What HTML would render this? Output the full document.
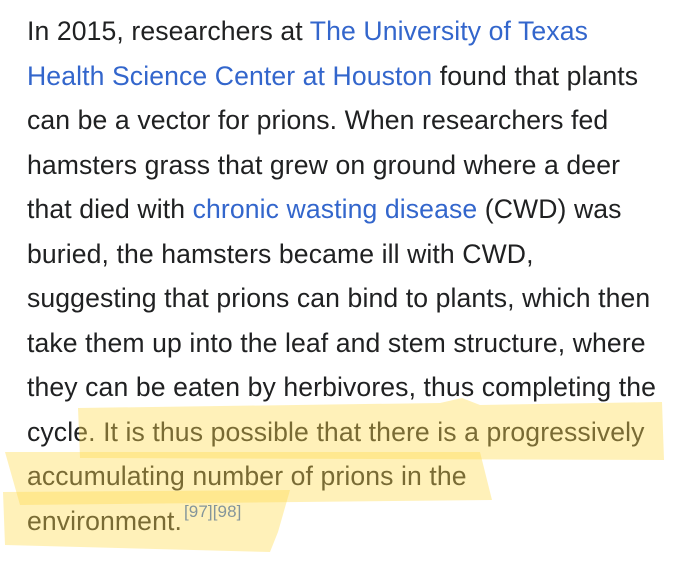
<!DOCTYPE html>
<html><head><meta charset="utf-8">
<style>
html,body{margin:0;padding:0;background:#fff;}
body{width:680px;height:566px;overflow:hidden;position:relative;}
#txt{position:absolute;left:27px;top:9px;font-family:"Liberation Sans",sans-serif;font-size:26.6px;line-height:44.5px;color:#202122;white-space:nowrap;letter-spacing:0.1px;}
#txt div{height:44.5px;}
a{color:#3366cc;text-decoration:none;}
sup{font-size:17px;color:#3366cc;display:inline-block;vertical-align:top;line-height:17px;margin-top:4px;margin-left:2px;}
svg{position:absolute;left:0;top:0;}
</style></head><body>
<div id="txt">
<div>In 2015, researchers at <a href="#">The University of Texas</a></div>
<div><a href="#">Health Science Center at Houston</a> found that plants</div>
<div>can be a vector for prions. When researchers fed</div>
<div>hamsters grass that grew on ground where a deer</div>
<div>that died with <a href="#">chronic wasting disease</a> (CWD) was</div>
<div>buried, the hamsters became ill with CWD,</div>
<div>suggesting that prions can bind to plants, which then</div>
<div>take them up into the leaf and stem structure, where</div>
<div>they can be eaten by herbivores, thus completing the</div>
<div>cycle. It is thus possible that there is a progressively</div>
<div>accumulating number of prions in the</div>
<div>environment.<sup>[97][98]</sup></div>
</div>
<svg width="680" height="566">
<g fill="rgba(255,220,80,0.4)">
<polygon points="78,408 440,403 462,398 480,405 662,402 664,460 80,458"/>
<polygon points="5,452 480,452 492,500 20,505"/>
<polygon points="3,492 290,490 278,532 270,552 5,545"/>
</g>
</svg>
</body></html>
